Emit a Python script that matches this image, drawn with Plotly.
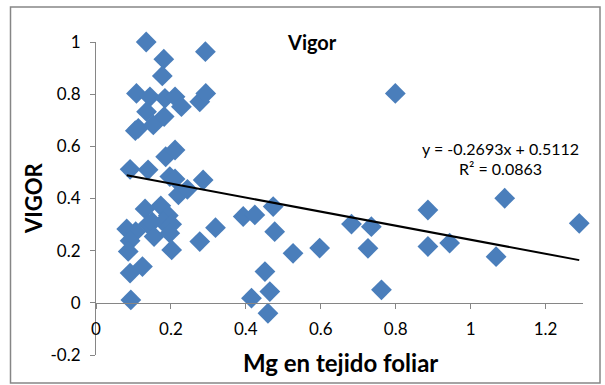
import plotly.graph_objects as go

mg = [0.134, 0.292, 0.181, 0.177, 0.108, 0.144, 0.184, 0.211, 0.228, 0.277, 0.293,
      0.135, 0.113, 0.105, 0.153, 0.182, 0.799,
      0.091, 0.139, 0.186, 0.211, 0.197, 0.211, 0.286, 0.220, 0.244,
      0.131, 0.173, 0.193, 0.139, 0.150, 0.180, 0.202, 0.082, 0.106, 0.155, 0.197,
      0.091, 0.086, 0.202, 0.277, 0.319, 0.091, 0.124, 0.093,
      0.393, 0.424, 0.473, 0.477, 0.526, 0.451, 0.415, 0.464, 0.459, 0.597,
      0.682, 0.735, 0.726, 0.762, 0.886, 0.886, 0.944, 1.068, 1.091, 1.290]
vigor = [1.000, 0.963, 0.934, 0.870, 0.803, 0.790, 0.784, 0.790, 0.752, 0.771, 0.803,
         0.733, 0.669, 0.660, 0.682, 0.714, 0.803,
         0.512, 0.510, 0.560, 0.586, 0.484, 0.475, 0.471, 0.414, 0.435,
         0.360, 0.372, 0.335, 0.301, 0.310, 0.310, 0.301, 0.283, 0.273, 0.254, 0.267,
         0.238, 0.197, 0.203, 0.235, 0.288, 0.114, 0.139, 0.011,
         0.331, 0.337, 0.369, 0.273, 0.190, 0.120, 0.018, 0.043, -0.040, 0.210,
         0.302, 0.292, 0.209, 0.050, 0.356, 0.216, 0.229, 0.177, 0.401, 0.305]

slope = -0.2693
intercept = 0.5112
r2 = 0.0863

x_ticks = [0, 0.2, 0.4, 0.6, 0.8, 1.0, 1.2]
x_ticktext = ["0", "0.2", "0.4", "0.6", "0.8", "1", "1.2"]
y_ticks = [-0.2, 0, 0.2, 0.4, 0.6, 0.8, 1.0]
y_ticktext = ["-0.2", "0", "0.2", "0.4", "0.6", "0.8", "1"]

FONT = "Lato"
AX = "#868686"

fig = go.Figure()
fig.add_trace(go.Scatter(
    x=mg, y=vigor, mode="markers", cliponaxis=False,
    marker=dict(symbol="diamond", size=16, color="#4A7EBB", line=dict(width=0)),
    showlegend=False, hoverinfo="skip"))

x0, x1 = min(mg), max(mg)
fig.add_trace(go.Scatter(
    x=[x0, x1], y=[slope * x0 + intercept, slope * x1 + intercept],
    mode="lines", line=dict(color="black", width=2), cliponaxis=False,
    showlegend=False, hoverinfo="skip"))

fig.update_layout(
    width=605, height=385,
    margin=dict(l=96, r=22, t=42, b=30, autoexpand=False),
    paper_bgcolor="white", plot_bgcolor="white",
    font=dict(family=FONT, size=17, color="black"),
    xaxis=dict(range=[0, 1.3], tickvals=x_ticks, ticktext=x_ticktext,
               showgrid=False, zeroline=False, showline=True, linecolor=AX, linewidth=1,
               ticks="outside", ticklen=5, tickcolor=AX,
               anchor="free", position=1/6, ticklabelstandoff=6,
               tickfont=dict(family=FONT, size=17), automargin=False),
    yaxis=dict(range=[-0.2, 1.0], tickvals=y_ticks, ticktext=y_ticktext,
               showgrid=False, zeroline=False, showline=True, linecolor=AX, linewidth=1,
               ticks="outside", ticklen=5, tickcolor=AX, ticklabelstandoff=6,
               tickfont=dict(family=FONT, size=17), automargin=False),
)

def px(xp):
    return (xp - 96) / 487

def py(yp):
    return (355 - yp) / 313

ann = [
    dict(text="<b>Vigor</b>", x=px(312), y=py(42), size=20),
    dict(text="<b>VIGOR</b>", x=px(33), y=py(198), size=22, angle=-90),
    dict(text="<b>Mg en tejido foliar</b>", x=px(340), y=py(362), size=24),
    dict(text=f"y = {slope:.4f}x + {intercept:.4f}", x=px(500), y=py(148), size=16),
    dict(text=f"R² = {r2:.4f}", x=px(500), y=py(168), size=16),
]
for a in ann:
    fig.add_annotation(text=a["text"], x=a["x"], y=a["y"], xref="paper", yref="paper",
                       xanchor="center", yanchor="middle", showarrow=False,
                       textangle=a.get("angle", 0),
                       font=dict(family=FONT, size=a["size"], color="black"))

fig.add_shape(type="rect", xref="paper", yref="paper",
              x0=px(10.5), x1=px(600), y0=py(383), y1=py(7),
              line=dict(color=AX, width=1.5), layer="above")

fig.write_html("out.html", config={"displayModeBar": False},
               post_script="document.body.style.margin='0';document.body.style.padding='0';")
